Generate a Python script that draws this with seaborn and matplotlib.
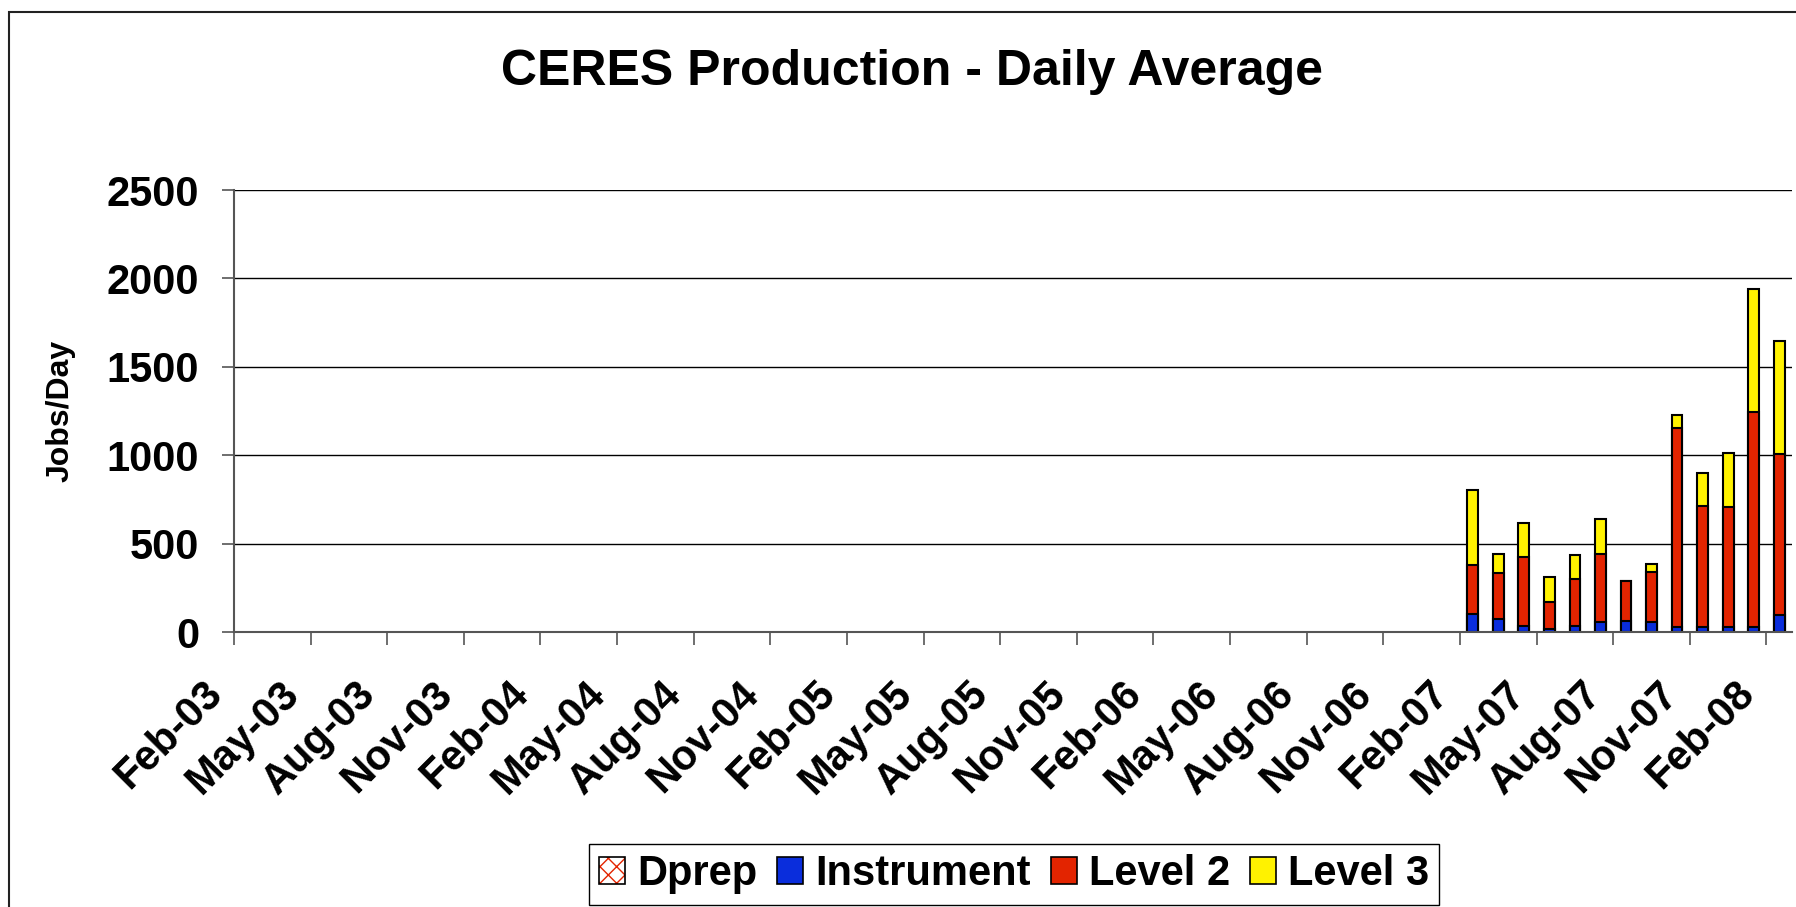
import matplotlib
matplotlib.use("Agg")
import pandas as pd
import matplotlib.pyplot as plt
import matplotlib.transforms as mtransforms
import seaborn as sns
from matplotlib.patches import Patch, Rectangle
from matplotlib.legend_handler import HandlerTuple

# Monthly categories on the x axis (Feb-03 .. Feb-08)
months = [d.strftime("%b-%y") for d in pd.date_range("2003-02-01", "2008-02-01", freq="MS")]

# Months that have production data
data_months = ["Feb-07", "Mar-07", "Apr-07", "May-07", "Jun-07", "Jul-07", "Aug-07",
               "Sep-07", "Oct-07", "Nov-07", "Dec-07", "Jan-08", "Feb-08"]
dprep = [0, 0, 0, 0, 0, 0, 0, 0, 0, 0, 0, 0, 0]
instrument = [102, 72, 32, 19, 32, 55, 62, 55, 28, 28, 28, 28, 94]
level2 = [276, 261, 393, 150, 267, 389, 228, 282, 1126, 686, 681, 1217, 910]
level3 = [425, 107, 190, 141, 137, 193, 0, 45, 74, 188, 304, 695, 643]

BLUE = "#0a2ddc"
RED = "#e32400"
YELLOW = "#fff200"
FONT = "Liberation Sans"

sns.set_style("white")
plt.rcParams["font.family"] = [FONT, "DejaVu Sans"]
plt.rcParams["text.color"] = "black"
plt.rcParams["axes.labelcolor"] = "black"
plt.rcParams["xtick.labelcolor"] = "black"
plt.rcParams["ytick.labelcolor"] = "black"

df = pd.DataFrame({"month": data_months, "Dprep": dprep, "Instrument": instrument,
                   "Level 2": level2, "Level 3": level3})
df["instr_top"] = df["Dprep"] + df["Instrument"]
df["l2_top"] = df["instr_top"] + df["Level 2"]
df["l3_top"] = df["l2_top"] + df["Level 3"]

fig = plt.figure(figsize=(17.96, 9.07), dpi=100)
ax = fig.add_axes([234 / 1796, 1 - 632 / 907, (1792 - 234) / 1796, (632 - 190) / 907])

# stacked bars: draw cumulative totals back to front
for col, color in [("l3_top", YELLOW), ("l2_top", RED), ("instr_top", BLUE)]:
    sns.barplot(data=df, x="month", y=col, order=months, color=color, saturation=1,
                width=0.42, edgecolor="black", linewidth=1.5, errorbar=None, ax=ax)

ax.set_axisbelow(True)
ax.set_xlim(-0.5, len(months) - 0.5)
ax.set_ylim(0, 2500)
ax.set_yticks(range(0, 2501, 500))
ax.yaxis.grid(True, color="black", linewidth=1.0)
ax.xaxis.grid(False)

ax.set_xticks([i - 0.5 for i in range(0, len(months), 3)])
ax.set_xticklabels(months[::3], rotation=45, ha="right", rotation_mode="anchor",
                   fontsize=30, fontweight="bold")
for lab in ax.get_yticklabels():
    lab.set_fontsize(30)
    lab.set_fontweight("bold")
ax.tick_params(axis="y", length=9, width=1.2, color="#555555", pad=16, left=True)
ax.tick_params(axis="x", length=9, width=1.2, color="#555555", pad=21, bottom=True)

# rotated month labels sit a bit left of their tick, like the original chart
shift = mtransforms.ScaledTranslation(-32 / 100, 0, fig.dpi_scale_trans)
for lab in ax.get_xticklabels():
    lab.set_transform(lab.get_transform() + shift)

for side in ["top", "right"]:
    ax.spines[side].set_visible(False)
for side in ["left", "bottom"]:
    ax.spines[side].set_color("#555555")
    ax.spines[side].set_linewidth(1.5)

ax.set_xlabel("")
ax.set_ylabel("Jobs/Day", fontsize=23, fontweight="bold")
ax.yaxis.set_label_coords(-0.102, 0.5)

fig.text(912 / 1796, 1 - 72 / 907, "CERES Production - Daily Average",
         ha="center", va="center", fontsize=36, fontweight="bold")

# chart border
fig.add_artist(Rectangle((9 / 1796, -0.05), 1.2, 1 - 12 / 907 + 0.05,
                         transform=fig.transFigure, fill=False,
                         edgecolor="#222222", linewidth=1.5))

dprep_handle = (Patch(facecolor="white", edgecolor=RED, hatch="xx", linewidth=0),
                Patch(facecolor="none", edgecolor="black", linewidth=1.2))
handles = [dprep_handle,
           Patch(facecolor=BLUE, edgecolor="black", linewidth=1.2),
           Patch(facecolor=RED, edgecolor="black", linewidth=1.2),
           Patch(facecolor=YELLOW, edgecolor="black", linewidth=1.2)]
leg = fig.legend(handles=handles, labels=["Dprep", "Instrument", "Level 2", "Level 3"],
                 loc="upper center", bbox_to_anchor=(1014 / 1796, 1 - 844 / 907),
                 borderaxespad=0, ncol=4, frameon=True, fancybox=False,
                 edgecolor="black", framealpha=1,
                 prop={"family": FONT, "weight": "bold", "size": 30},
                 handlelength=0.62, handleheight=0.62, handletextpad=0.29,
                 columnspacing=0.48, borderpad=0.25,
                 handler_map={tuple: HandlerTuple(ndivide=1, pad=0)})

fig.savefig("out.png", dpi=100)
